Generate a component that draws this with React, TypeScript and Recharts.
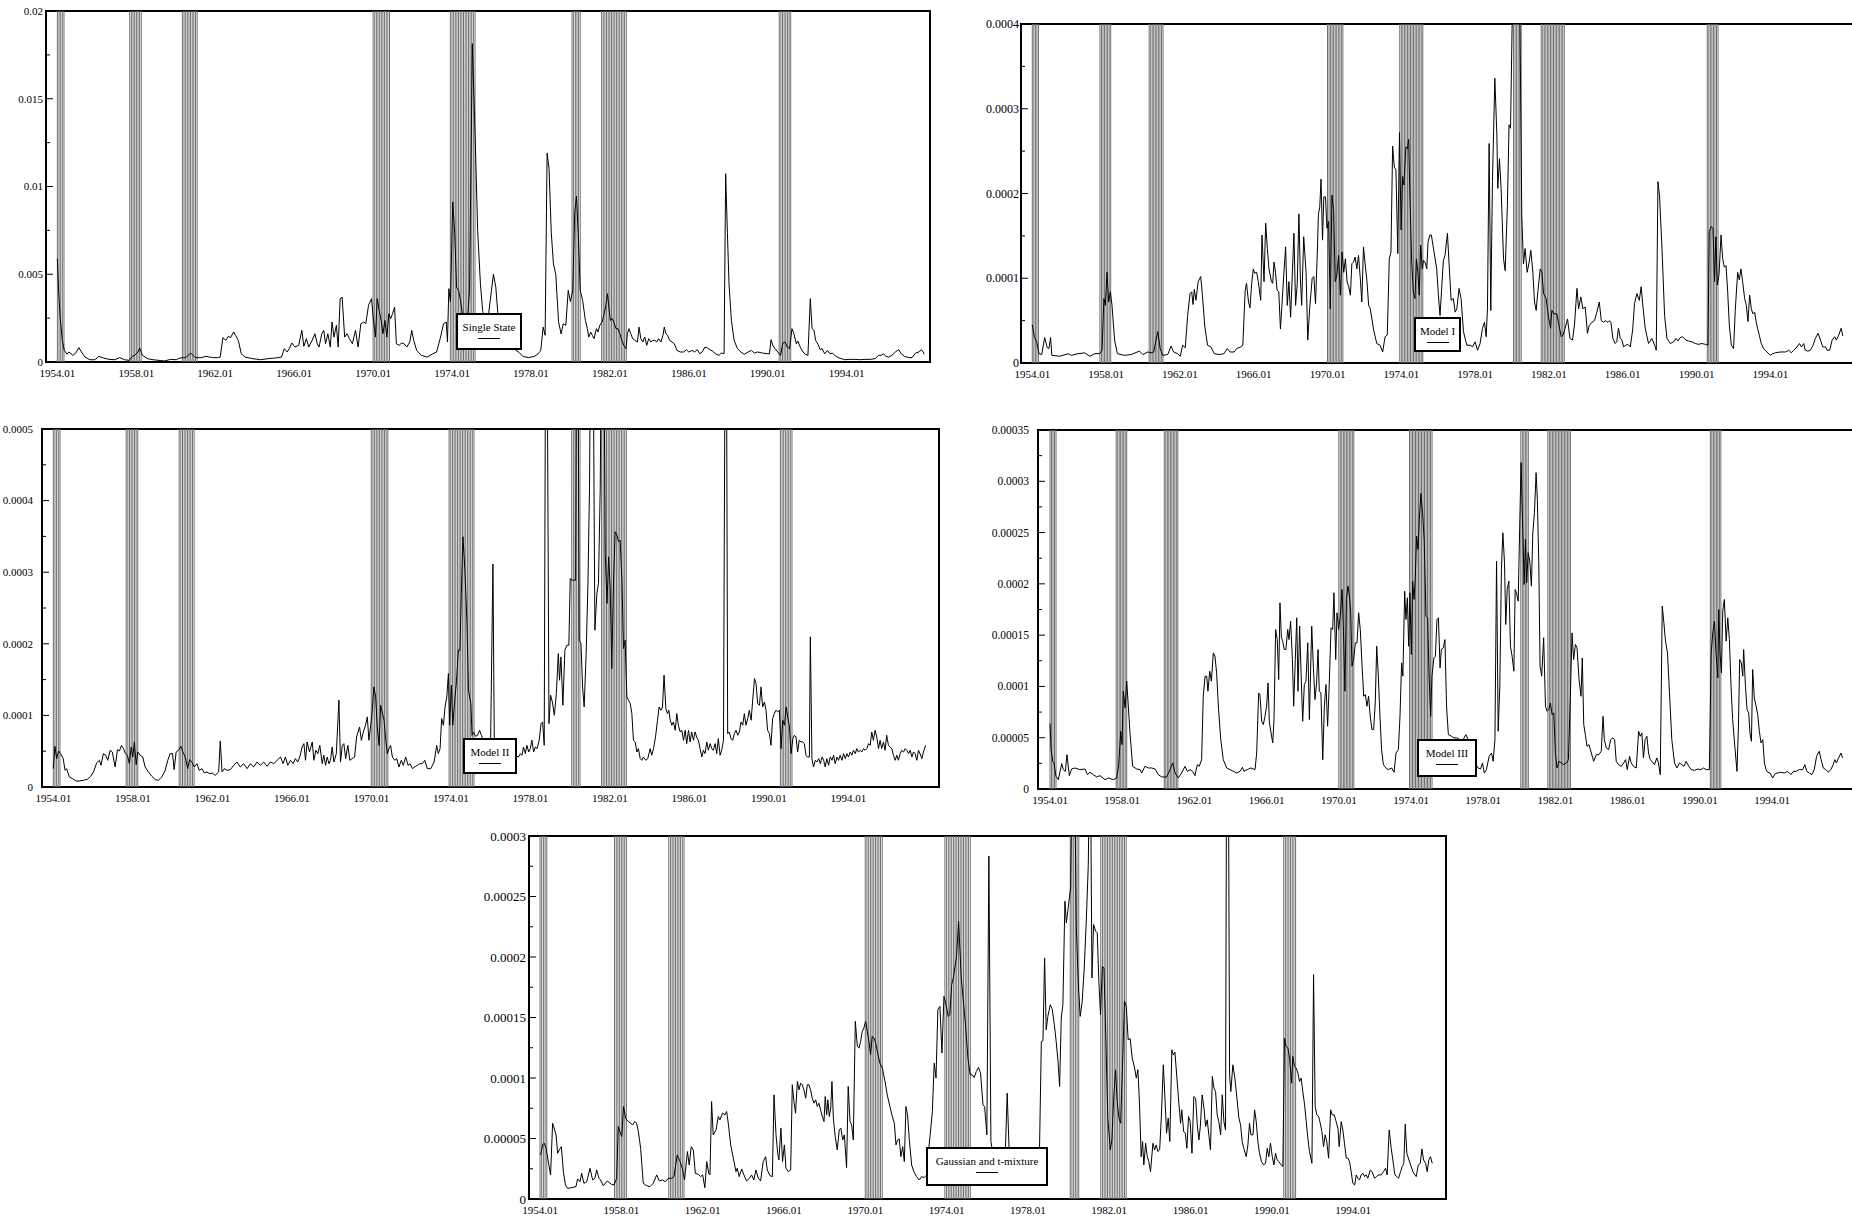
import React from 'react';
import { LineChart, Line, XAxis, YAxis, ReferenceLine, ReferenceArea } from 'recharts';

const FONT = "'Liberation Serif', 'Times New Roman', Times, serif";

type Pt = [number, number];

// x axis: decimal years, labelled as the January observation
const xTickYears = [1954, 1958, 1962, 1966, 1970, 1974, 1978, 1982, 1986, 1990, 1994];

// NBER recession months (month after peak .. trough), one grey line per month
const recessionSpans = [
  ['1954.01', '1954.05'],
  ['1957.09', '1958.04'],
  ['1960.05', '1961.02'],
  ['1970.01', '1970.11'],
  ['1973.12', '1975.03'],
  ['1980.02', '1980.07'],
  ['1981.08', '1982.11'],
  ['1990.08', '1991.03'],
];

const singleStateTicks = ['0', '0.005', '0.01', '0.015', '0.02'];
const modelITicks = ['0', '0.0001', '0.0002', '0.0003', '0.0004'];
const modelIITicks = ['0', '0.0001', '0.0002', '0.0003', '0.0004', '0.0005'];
const modelIIITicks = ['0', '0.00005', '0.0001', '0.00015', '0.0002', '0.00025', '0.0003', '0.00035'];
const mixtureTicks = ['0', '0.00005', '0.0001', '0.00015', '0.0002', '0.00025', '0.0003'];

// conditional variance, single state model (units of 1e-3)
const singleState: Pt[] = [
  [1954.00,5.89],[1954.06,4.08],[1954.14,2.56],[1954.25,1.23],[1954.35,0.66],[1954.49,0.44],[1954.58,0.57],[1954.78,0.38],[1954.93,0.51],[1955.09,0.82],
  [1955.22,0.57],[1955.40,0.28],[1955.65,0.13],[1955.90,0.13],[1956.10,0.32],[1956.33,0.23],[1956.62,0.15],[1956.91,0.13],[1957.15,0.25],[1957.40,0.13],
  [1957.65,0.09],[1957.79,0.32],[1957.92,0.38],[1958.08,0.57],[1958.17,0.80],[1958.31,0.38],[1958.56,0.19],[1958.85,0.13],[1959.15,0.09],[1959.44,0.06],
  [1959.73,0.15],[1960.02,0.13],[1960.21,0.23],[1960.50,0.25],[1960.76,0.51],[1960.99,0.25],[1961.28,0.25],[1961.53,0.32],[1961.86,0.25],[1962.12,0.25],
  [1962.25,0.28],[1962.39,1.39],[1962.54,1.23],[1962.66,1.46],[1962.78,1.39],[1962.93,1.71],[1963.03,1.52],[1963.17,1.23],[1963.32,0.47],[1963.51,0.28],
  [1963.90,0.19],[1964.29,0.13],[1964.68,0.19],[1965.07,0.23],[1965.36,0.28],[1965.50,0.76],[1965.65,0.57],[1965.75,0.76],[1965.88,1.08],[1966.04,0.85],
  [1966.23,0.95],[1966.39,1.80],[1966.49,0.89],[1966.62,1.33],[1966.74,0.85],[1966.91,1.23],[1967.05,1.61],[1967.17,1.04],[1967.26,0.85],[1967.40,1.61],
  [1967.50,1.80],[1967.59,1.04],[1967.71,1.61],[1967.83,0.85],[1967.92,2.28],[1968.02,1.42],[1968.14,2.09],[1968.23,0.85],[1968.33,3.61],[1968.43,3.70],
  [1968.56,1.42],[1968.68,1.61],[1968.80,1.33],[1968.95,1.04],[1969.11,1.80],[1969.24,0.85],[1969.38,2.18],[1969.53,2.28],[1969.63,2.18],[1969.77,3.23],
  [1969.92,3.61],[1970.02,2.37],[1970.12,1.42],[1970.21,3.61],[1970.31,2.94],[1970.41,2.37],[1970.50,1.61],[1970.60,2.37],[1970.70,1.42],[1970.80,2.75],
  [1970.89,2.47],[1970.99,2.75],[1971.09,3.13],[1971.18,1.04],[1971.32,0.95],[1971.44,1.08],[1971.57,1.04],[1971.71,0.85],[1971.86,1.14],[1971.96,1.80],
  [1972.06,1.23],[1972.21,0.66],[1972.45,0.38],[1972.74,0.28],[1973.03,0.47],[1973.22,0.57],[1973.42,1.42],[1973.57,2.18],[1973.71,2.28],[1973.77,1.14],
  [1973.84,4.18],[1973.92,3.42],[1974.04,9.12],[1974.14,7.31],[1974.23,4.27],[1974.33,4.08],[1974.43,3.51],[1974.54,2.66],[1974.66,1.61],[1974.78,2.37],
  [1974.89,4.08],[1975.03,18.14],[1975.17,13.01],[1975.30,7.50],[1975.44,4.46],[1975.55,2.94],[1975.70,2.20],[1975.85,2.70],[1976.00,4.08],[1976.10,5.00],
  [1976.22,4.27],[1976.33,2.66],[1976.50,2.00],[1976.70,1.40],[1976.95,1.00],[1977.20,0.70],[1977.40,0.55],[1977.59,0.32],[1977.88,0.25],[1978.17,0.32],
  [1978.37,0.47],[1978.50,0.66],[1978.62,1.99],[1978.72,1.52],[1978.82,11.90],[1978.92,11.00],[1979.03,7.40],[1979.14,5.60],[1979.26,5.00],[1979.40,2.30],
  [1979.53,1.60],[1979.64,2.18],[1979.77,2.09],[1979.89,4.08],[1980.00,3.45],[1980.12,4.08],[1980.22,8.50],[1980.31,9.45],[1980.40,7.31],[1980.50,4.08],
  [1980.62,3.51],[1980.76,2.37],[1980.86,1.90],[1980.93,1.42],[1981.03,1.71],[1981.11,1.52],[1981.20,1.33],[1981.32,1.90],[1981.40,1.71],[1981.49,2.09],
  [1981.61,2.28],[1981.71,2.75],[1981.80,3.23],[1981.88,3.89],[1981.95,3.13],[1982.03,2.37],[1982.12,2.47],[1982.20,2.28],[1982.31,1.90],[1982.41,1.90],
  [1982.51,1.61],[1982.61,1.23],[1982.71,0.95],[1982.82,0.76],[1982.89,1.61],[1982.97,1.90],[1983.06,1.61],[1983.16,1.33],[1983.28,1.23],[1983.40,1.14],
  [1983.48,1.99],[1983.57,1.33],[1983.67,1.14],[1983.77,1.42],[1983.87,0.95],[1983.97,1.33],[1984.08,1.14],[1984.18,1.23],[1984.28,1.23],[1984.38,1.14],
  [1984.47,1.33],[1984.59,1.14],[1984.69,1.52],[1984.76,1.99],[1984.84,1.61],[1984.93,1.52],[1985.03,1.23],[1985.15,1.14],[1985.27,1.04],[1985.40,0.66],
  [1985.57,0.57],[1985.74,0.57],[1985.88,0.70],[1986.00,0.57],[1986.17,0.66],[1986.29,0.57],[1986.43,0.70],[1986.56,0.47],[1986.68,0.57],[1986.82,0.85],
  [1986.94,0.80],[1987.07,0.70],[1987.19,0.63],[1987.36,0.47],[1987.53,0.38],[1987.65,0.51],[1987.79,0.47],[1987.87,10.73],[1987.96,7.31],[1988.04,4.46],
  [1988.16,2.37],[1988.30,1.23],[1988.47,0.76],[1988.64,0.57],[1988.81,0.44],[1989.01,0.57],[1989.18,0.66],[1989.32,0.51],[1989.49,0.57],[1989.74,0.51],
  [1989.97,0.47],[1990.09,0.47],[1990.17,1.27],[1990.26,0.95],[1990.37,0.76],[1990.51,0.57],[1990.65,0.38],[1990.77,1.08],[1990.89,1.14],[1990.99,0.85],
  [1991.11,0.76],[1991.23,1.90],[1991.33,1.61],[1991.45,1.04],[1991.53,1.20],[1991.65,0.85],[1991.79,0.57],[1991.91,0.44],[1992.04,0.38],[1992.16,3.61],
  [1992.25,1.90],[1992.35,1.80],[1992.43,1.23],[1992.55,1.01],[1992.66,0.70],[1992.76,0.76],[1992.89,0.47],[1993.03,0.66],[1993.15,0.47],[1993.27,0.51],
  [1993.40,0.38],[1993.57,0.25],[1993.74,0.19],[1993.91,0.13],[1994.17,0.15],[1994.43,0.15],[1994.68,0.13],[1994.94,0.15],[1995.19,0.15],[1995.45,0.19],
  [1995.62,0.38],[1995.75,0.38],[1995.87,0.47],[1995.99,0.32],[1996.13,0.28],[1996.30,0.38],[1996.47,0.57],[1996.64,0.70],[1996.77,0.47],[1996.94,0.32],
  [1997.15,0.25],[1997.32,0.25],[1997.49,0.51],[1997.66,0.57],[1997.80,0.70],[1997.88,0.57],[1997.93,0.44],
];

// Model I (units of 1e-4)
const modelI: Pt[] = [
  [1954.00,0.45],[1954.11,0.31],[1954.24,0.25],[1954.36,0.11],[1954.51,0.10],[1954.67,0.30],[1954.81,0.18],[1954.90,0.17],[1954.99,0.30],[1955.06,0.09],
  [1955.49,0.08],[1955.95,0.11],[1956.12,0.09],[1956.48,0.11],[1956.84,0.12],[1957.11,0.08],[1957.39,0.11],[1957.65,0.11],[1957.78,0.15],[1957.88,0.76],
  [1957.96,0.68],[1958.05,1.07],[1958.14,0.72],[1958.23,0.84],[1958.32,0.68],[1958.46,0.27],[1958.61,0.11],[1959.00,0.09],[1959.36,0.10],[1959.81,0.14],
  [1959.99,0.10],[1960.26,0.13],[1960.44,0.12],[1960.58,0.13],[1960.80,0.37],[1960.93,0.17],[1961.07,0.09],[1961.34,0.10],[1961.52,0.20],[1961.66,0.13],
  [1961.88,0.11],[1962.02,0.08],[1962.15,0.21],[1962.29,0.18],[1962.42,0.56],[1962.55,0.82],[1962.64,0.84],[1962.71,0.69],[1962.78,0.87],[1962.87,0.74],
  [1962.99,0.96],[1963.13,1.02],[1963.22,0.80],[1963.35,0.43],[1963.50,0.21],[1963.68,0.19],[1963.86,0.11],[1964.13,0.10],[1964.39,0.11],[1964.57,0.17],
  [1964.72,0.13],[1964.94,0.13],[1965.08,0.17],[1965.30,0.19],[1965.41,0.21],[1965.54,0.86],[1965.61,0.94],[1965.72,0.72],[1965.80,0.65],[1965.89,0.94],
  [1965.98,1.11],[1966.05,1.06],[1966.16,1.07],[1966.25,0.96],[1966.38,0.74],[1966.45,1.51],[1966.56,0.96],[1966.65,1.65],[1966.74,1.35],[1966.83,1.11],
  [1966.96,0.96],[1967.03,0.94],[1967.10,1.19],[1967.18,1.07],[1967.27,0.86],[1967.36,0.84],[1967.45,0.40],[1967.53,0.68],[1967.63,1.04],[1967.73,1.37],
  [1967.82,0.68],[1967.91,0.96],[1968.00,0.54],[1968.18,1.53],[1968.27,0.68],[1968.36,0.93],[1968.45,1.76],[1968.53,1.00],[1968.60,0.68],[1968.71,1.49],
  [1968.84,1.06],[1968.93,0.27],[1969.04,0.66],[1969.17,1.00],[1969.26,1.02],[1969.35,0.70],[1969.44,1.25],[1969.51,1.76],[1969.58,1.84],[1969.65,2.17],
  [1969.73,1.45],[1969.80,1.96],[1969.89,1.96],[1969.97,1.59],[1970.06,1.67],[1970.15,0.64],[1970.24,1.98],[1970.33,1.80],[1970.42,0.96],[1970.51,1.04],
  [1970.60,1.27],[1970.70,0.80],[1970.79,1.31],[1970.88,1.07],[1970.97,1.23],[1971.06,0.96],[1971.15,0.90],[1971.24,0.80],[1971.32,1.17],[1971.41,1.19],
  [1971.50,1.25],[1971.59,1.11],[1971.68,1.27],[1971.77,1.02],[1971.86,0.72],[1971.95,1.37],[1972.04,1.17],[1972.14,0.96],[1972.23,0.68],[1972.32,0.64],
  [1972.50,0.39],[1972.67,0.23],[1972.85,0.21],[1972.99,0.13],[1973.12,0.31],[1973.24,0.33],[1973.35,1.23],[1973.44,1.31],[1973.53,2.56],[1973.62,2.31],
  [1973.71,2.28],[1973.81,1.29],[1973.90,2.72],[1973.99,1.57],[1974.07,2.20],[1974.14,2.10],[1974.25,2.55],[1974.33,2.53],[1974.40,2.64],[1974.47,1.94],
  [1974.56,1.21],[1974.65,0.84],[1974.74,0.76],[1974.82,1.23],[1974.90,1.07],[1974.97,0.80],[1975.05,1.39],[1975.14,1.11],[1975.20,1.21],[1975.29,1.19],
  [1975.38,1.11],[1975.45,1.43],[1975.55,1.51],[1975.63,1.51],[1975.92,1.11],[1976.01,0.80],[1976.10,0.56],[1976.28,1.21],[1976.37,1.27],[1976.50,1.53],
  [1976.59,1.17],[1976.70,0.74],[1976.82,0.76],[1976.92,0.60],[1977.01,0.64],[1977.13,0.88],[1977.24,0.76],[1977.37,0.37],[1977.55,0.21],[1977.73,0.21],
  [1977.86,0.19],[1978.00,0.25],[1978.13,0.15],[1978.27,0.23],[1978.40,0.41],[1978.51,0.48],[1978.60,0.31],[1978.67,0.64],[1978.76,2.59],[1978.85,0.62],
  [1978.94,2.14],[1979.07,3.36],[1979.18,2.69],[1979.23,2.06],[1979.32,2.41],[1979.41,2.06],[1979.54,1.23],[1979.63,1.09],[1979.75,1.86],[1979.84,2.81],
  [1979.92,2.77],[1980.03,4.30],[1980.20,4.60],[1980.42,4.30],[1980.53,1.74],[1980.62,1.17],[1980.71,1.35],[1980.82,1.07],[1980.93,1.19],[1981.02,1.33],
  [1981.13,1.07],[1981.22,0.72],[1981.31,0.62],[1981.40,0.84],[1981.53,1.11],[1981.62,1.07],[1981.71,0.82],[1981.85,0.76],[1981.98,0.54],[1982.09,0.41],
  [1982.16,0.62],[1982.27,0.58],[1982.43,0.58],[1982.56,0.43],[1982.67,0.31],[1982.77,0.33],[1982.88,0.41],[1983.01,0.52],[1983.14,0.29],[1983.28,0.27],
  [1983.39,0.46],[1983.52,0.88],[1983.61,0.64],[1983.73,0.78],[1983.84,0.64],[1983.97,0.66],[1984.09,0.35],[1984.18,0.44],[1984.33,0.48],[1984.47,0.50],
  [1984.60,0.60],[1984.73,0.72],[1984.84,0.50],[1984.96,0.48],[1985.05,0.50],[1985.20,0.48],[1985.29,0.50],[1985.36,0.48],[1985.47,0.29],[1985.59,0.23],
  [1985.68,0.25],[1985.77,0.41],[1985.87,0.29],[1985.96,0.27],[1986.05,0.19],[1986.17,0.21],[1986.28,0.22],[1986.41,0.19],[1986.54,0.39],[1986.64,0.70],
  [1986.77,0.82],[1986.90,0.74],[1987.00,0.90],[1987.10,0.66],[1987.22,0.41],[1987.40,0.23],[1987.58,0.29],[1987.73,0.21],[1987.82,0.15],[1987.91,2.14],
  [1988.00,1.96],[1988.13,1.35],[1988.27,0.56],[1988.40,0.29],[1988.58,0.23],[1988.76,0.25],[1988.89,0.29],[1989.00,0.26],[1989.12,0.30],[1989.25,0.31],
  [1989.43,0.27],[1989.57,0.26],[1989.75,0.25],[1989.93,0.23],[1990.11,0.22],[1990.29,0.23],[1990.48,0.22],[1990.62,0.21],[1990.69,1.55],[1990.80,1.61],
  [1990.89,1.59],[1990.98,0.96],[1991.05,1.49],[1991.13,0.92],[1991.22,1.04],[1991.33,1.51],[1991.42,1.23],[1991.51,1.13],[1991.60,1.15],[1991.69,0.84],
  [1991.78,0.44],[1991.89,0.21],[1992.01,0.17],[1992.10,0.62],[1992.23,1.07],[1992.32,0.98],[1992.41,1.11],[1992.50,0.96],[1992.61,0.76],[1992.70,0.68],
  [1992.79,0.49],[1992.88,0.80],[1992.97,0.64],[1993.06,0.58],[1993.15,0.60],[1993.24,0.48],[1993.31,0.41],[1993.40,0.33],[1993.51,0.23],[1993.64,0.17],
  [1993.82,0.13],[1994.00,0.09],[1994.13,0.11],[1994.27,0.12],[1994.54,0.13],[1994.82,0.13],[1995.00,0.15],[1995.14,0.12],[1995.27,0.15],[1995.45,0.19],
  [1995.58,0.23],[1995.69,0.19],[1995.81,0.23],[1995.90,0.15],[1996.04,0.14],[1996.17,0.15],[1996.32,0.21],[1996.44,0.29],[1996.59,0.35],[1996.72,0.27],
  [1996.84,0.19],[1996.99,0.19],[1997.08,0.15],[1997.22,0.15],[1997.35,0.27],[1997.49,0.31],[1997.58,0.27],[1997.71,0.33],[1997.84,0.41],[1997.93,0.32],
];

// Model II (units of 1e-5)
const modelII: Pt[] = [
  [1954.00,2.56],[1954.08,5.69],[1954.17,3.96],[1954.27,5.03],[1954.37,4.66],[1954.50,3.96],[1954.59,2.33],[1954.67,2.56],[1954.81,1.40],[1954.97,1.16],
  [1955.14,0.84],[1955.31,0.84],[1955.51,0.93],[1955.71,1.07],[1955.88,1.49],[1956.02,2.10],[1956.18,3.36],[1956.32,3.73],[1956.40,3.03],[1956.52,4.66],
  [1956.64,4.43],[1956.74,3.73],[1956.86,5.13],[1956.97,4.89],[1957.11,2.80],[1957.23,5.22],[1957.33,5.03],[1957.43,5.82],[1957.53,5.36],[1957.63,4.66],
  [1957.73,4.43],[1957.83,3.26],[1957.92,5.59],[1958.00,4.19],[1958.08,6.29],[1958.17,3.12],[1958.25,4.89],[1958.37,4.43],[1958.50,4.19],[1958.62,2.80],
  [1958.79,2.10],[1958.96,1.49],[1959.13,1.03],[1959.29,0.93],[1959.46,1.40],[1959.63,2.33],[1959.76,3.73],[1959.88,4.66],[1960.00,4.66],[1960.08,2.42],
  [1960.18,4.89],[1960.30,5.13],[1960.42,5.69],[1960.52,4.89],[1960.64,4.19],[1960.76,2.56],[1960.86,3.82],[1960.97,3.49],[1961.09,2.80],[1961.23,3.26],
  [1961.34,2.33],[1961.48,2.56],[1961.60,1.96],[1961.73,2.10],[1961.87,1.86],[1962.00,1.96],[1962.15,1.63],[1962.32,2.10],[1962.40,6.43],[1962.49,2.10],
  [1962.61,2.56],[1962.74,2.33],[1962.91,2.42],[1963.08,3.03],[1963.24,3.49],[1963.41,2.80],[1963.58,3.26],[1963.75,2.56],[1963.92,3.26],[1964.08,2.80],
  [1964.25,3.49],[1964.42,3.03],[1964.59,3.49],[1964.76,2.89],[1964.92,3.49],[1965.09,3.26],[1965.26,3.73],[1965.43,4.19],[1965.56,3.26],[1965.68,4.19],
  [1965.80,3.03],[1965.93,3.73],[1966.07,3.26],[1966.18,3.96],[1966.30,3.49],[1966.40,4.19],[1966.52,5.59],[1966.61,6.06],[1966.69,3.73],[1966.77,6.29],
  [1966.89,4.89],[1967.03,6.29],[1967.11,3.73],[1967.21,5.13],[1967.31,4.66],[1967.41,5.82],[1967.53,3.26],[1967.61,4.43],[1967.70,3.03],[1967.78,4.19],
  [1967.87,3.26],[1967.95,3.73],[1968.03,5.59],[1968.12,3.49],[1968.24,4.66],[1968.37,12.12],[1968.45,3.49],[1968.54,5.82],[1968.62,6.06],[1968.71,3.96],
  [1968.82,5.82],[1968.92,3.73],[1969.04,3.96],[1969.16,4.19],[1969.26,6.99],[1969.41,8.39],[1969.50,6.52],[1969.60,7.69],[1969.71,8.62],[1969.80,9.79],
  [1969.88,6.52],[1969.97,8.62],[1970.05,10.72],[1970.13,13.98],[1970.22,12.58],[1970.30,8.39],[1970.39,5.82],[1970.47,11.42],[1970.55,10.48],[1970.64,9.32],
  [1970.72,6.76],[1970.81,4.66],[1970.89,5.36],[1970.97,5.82],[1971.06,4.19],[1971.18,3.73],[1971.28,3.96],[1971.39,2.80],[1971.51,3.73],[1971.61,3.03],
  [1971.73,4.19],[1971.85,3.03],[1971.95,3.26],[1972.07,2.56],[1972.18,2.80],[1972.32,3.03],[1972.45,3.26],[1972.57,3.26],[1972.69,3.73],[1972.82,2.56],
  [1972.99,2.56],[1973.16,3.49],[1973.29,5.82],[1973.37,4.66],[1973.46,5.36],[1973.54,9.55],[1973.63,8.62],[1973.71,11.18],[1973.80,12.58],[1973.88,15.84],
  [1973.94,8.62],[1974.03,14.21],[1974.10,8.62],[1974.20,12.12],[1974.29,14.91],[1974.38,19.11],[1974.46,19.11],[1974.53,27.03],[1974.61,34.95],[1974.71,30.29],
  [1974.81,23.30],[1974.89,13.51],[1975.01,11.65],[1975.07,7.22],[1975.15,7.69],[1975.24,7.08],[1975.35,7.22],[1975.45,7.92],[1975.54,7.22],[1975.70,6.00],
  [1975.85,5.50],[1976.00,5.80],[1976.12,31.13],[1976.19,6.00],[1976.40,5.50],[1976.70,5.00],[1977.00,4.80],[1977.20,4.50],[1977.41,4.19],[1977.50,4.66],
  [1977.58,4.43],[1977.66,5.59],[1977.75,4.66],[1977.83,5.82],[1977.92,4.89],[1978.00,5.36],[1978.08,6.52],[1978.17,4.89],[1978.25,5.59],[1978.34,5.36],
  [1978.45,6.52],[1978.54,8.85],[1978.62,9.09],[1978.70,5.82],[1978.80,90.00],[1978.94,8.85],[1979.02,12.81],[1979.11,11.88],[1979.21,10.02],[1979.31,13.05],
  [1979.41,18.64],[1979.47,14.91],[1979.54,18.17],[1979.64,11.42],[1979.74,19.11],[1979.84,19.80],[1979.94,19.80],[1980.01,29.12],[1980.09,28.89],[1980.18,28.89],
  [1980.28,28.89],[1980.36,90.00],[1980.46,20.50],[1980.55,20.04],[1980.63,13.98],[1980.71,11.18],[1980.81,18.64],[1980.90,28.42],[1980.98,41.94],[1981.10,90.00],
  [1981.25,21.90],[1981.35,27.03],[1981.43,28.42],[1981.52,41.94],[1981.64,90.00],[1981.77,32.62],[1981.86,25.63],[1981.94,32.15],[1982.02,27.96],[1982.10,16.54],
  [1982.19,28.89],[1982.27,35.65],[1982.36,35.18],[1982.44,34.25],[1982.52,34.48],[1982.61,28.89],[1982.69,19.34],[1982.77,20.50],[1982.86,12.58],[1982.94,12.12],
  [1983.03,11.65],[1983.11,10.25],[1983.19,6.52],[1983.28,6.29],[1983.36,4.89],[1983.44,5.36],[1983.53,3.96],[1983.61,3.73],[1983.69,4.19],[1983.81,3.73],
  [1983.91,3.96],[1984.03,5.36],[1984.11,4.43],[1984.20,5.36],[1984.30,6.99],[1984.40,9.32],[1984.48,11.18],[1984.57,10.72],[1984.65,11.18],[1984.73,15.61],
  [1984.82,10.95],[1984.90,10.25],[1984.97,10.72],[1985.04,9.32],[1985.12,8.62],[1985.20,9.09],[1985.29,7.92],[1985.37,10.25],[1985.45,8.62],[1985.54,7.69],
  [1985.62,7.92],[1985.71,6.52],[1985.79,7.92],[1985.87,6.06],[1985.96,7.92],[1986.04,6.29],[1986.12,7.69],[1986.21,6.52],[1986.29,7.69],[1986.37,6.99],
  [1986.46,6.52],[1986.54,5.36],[1986.63,4.19],[1986.71,5.13],[1986.79,4.66],[1986.88,6.29],[1986.96,5.13],[1987.05,6.06],[1987.13,5.36],[1987.21,5.13],
  [1987.30,6.06],[1987.38,4.66],[1987.46,6.76],[1987.55,4.43],[1987.63,5.13],[1987.72,6.52],[1987.84,90.00],[1987.93,7.46],[1988.01,7.69],[1988.10,6.76],
  [1988.18,6.52],[1988.27,7.46],[1988.35,7.92],[1988.44,7.22],[1988.52,7.69],[1988.60,9.09],[1988.69,8.62],[1988.77,10.25],[1988.85,8.62],[1988.94,9.55],
  [1989.02,10.72],[1989.11,9.32],[1989.19,12.12],[1989.28,15.14],[1989.36,14.45],[1989.44,11.65],[1989.53,11.42],[1989.61,13.98],[1989.69,11.18],[1989.78,11.88],
  [1989.86,10.72],[1989.94,7.92],[1990.03,7.46],[1990.11,5.82],[1990.19,9.55],[1990.28,10.25],[1990.36,10.72],[1990.45,10.48],[1990.53,10.72],[1990.62,5.36],
  [1990.70,9.32],[1990.79,8.62],[1990.87,11.18],[1990.95,9.79],[1991.04,8.39],[1991.12,4.66],[1991.21,6.76],[1991.29,7.22],[1991.37,6.99],[1991.45,4.89],
  [1991.53,6.52],[1991.62,6.29],[1991.70,6.29],[1991.79,6.06],[1991.87,4.43],[1991.95,4.19],[1992.04,4.19],[1992.09,20.97],[1992.17,3.96],[1992.25,2.80],
  [1992.34,3.73],[1992.42,3.49],[1992.51,3.96],[1992.59,3.26],[1992.68,4.19],[1992.76,3.73],[1992.84,2.80],[1992.92,3.96],[1993.01,3.03],[1993.09,4.19],
  [1993.18,3.73],[1993.26,4.43],[1993.34,3.26],[1993.43,4.19],[1993.51,3.73],[1993.59,4.43],[1993.68,3.73],[1993.76,4.66],[1993.85,3.96],[1993.93,4.66],
  [1994.01,4.19],[1994.10,4.89],[1994.18,4.43],[1994.26,5.13],[1994.35,4.66],[1994.43,5.36],[1994.51,4.89],[1994.60,5.13],[1994.68,4.89],[1994.76,5.36],
  [1994.85,5.13],[1994.93,5.36],[1995.02,6.06],[1995.10,5.82],[1995.18,7.69],[1995.26,6.52],[1995.35,7.92],[1995.43,6.99],[1995.52,5.36],[1995.60,6.52],
  [1995.68,5.36],[1995.77,6.29],[1995.85,5.13],[1995.93,7.22],[1996.02,5.82],[1996.10,5.59],[1996.19,5.36],[1996.27,4.43],[1996.36,3.73],[1996.44,4.43],
  [1996.52,3.73],[1996.61,4.66],[1996.69,5.13],[1996.78,4.89],[1996.86,5.36],[1996.94,5.13],[1997.03,4.66],[1997.11,5.13],[1997.20,4.19],[1997.28,4.89],
  [1997.36,4.66],[1997.45,3.73],[1997.53,5.13],[1997.61,4.66],[1997.70,3.96],[1997.78,4.89],[1997.89,5.82],
];

// Model III (units of 1e-5)
const modelIII: Pt[] = [
  [1954.00,6.38],[1954.06,3.84],[1954.15,2.70],[1954.22,2.54],[1954.33,1.24],[1954.46,0.91],[1954.65,2.47],[1954.74,1.89],[1954.85,1.72],[1954.94,3.35],
  [1955.07,1.30],[1955.20,1.95],[1955.39,2.05],[1955.66,1.89],[1955.94,1.95],[1956.07,1.40],[1956.22,1.63],[1956.40,1.40],[1956.59,1.17],[1956.77,1.30],
  [1957.05,0.91],[1957.23,1.07],[1957.51,0.91],[1957.69,1.07],[1957.80,2.21],[1957.92,5.63],[1957.99,4.33],[1958.06,9.53],[1958.16,7.90],[1958.25,10.51],
  [1958.34,8.07],[1958.43,5.47],[1958.58,2.21],[1958.80,1.95],[1958.99,1.89],[1959.08,1.56],[1959.26,2.21],[1959.45,2.05],[1959.63,2.05],[1959.82,1.95],
  [1960.00,1.40],[1960.19,1.17],[1960.46,1.17],[1960.65,1.89],[1960.80,2.54],[1960.93,1.56],[1961.11,1.07],[1961.29,1.56],[1961.48,2.21],[1961.61,1.72],
  [1961.76,1.89],[1961.90,1.72],[1962.03,1.30],[1962.16,2.37],[1962.27,2.21],[1962.40,2.86],[1962.49,9.04],[1962.59,11.00],[1962.68,11.00],[1962.75,9.53],
  [1962.85,11.48],[1962.94,10.51],[1963.05,13.27],[1963.14,12.95],[1963.23,11.32],[1963.34,7.74],[1963.46,4.81],[1963.60,2.86],[1963.79,2.05],[1963.97,1.89],
  [1964.16,1.72],[1964.34,1.56],[1964.53,1.72],[1964.66,2.11],[1964.75,1.72],[1964.99,1.95],[1965.12,2.05],[1965.36,1.89],[1965.45,3.51],[1965.56,9.37],
  [1965.63,9.21],[1965.73,6.60],[1965.82,6.28],[1965.91,7.09],[1966.00,8.07],[1966.08,10.34],[1966.15,6.60],[1966.23,5.63],[1966.34,4.49],[1966.41,6.77],
  [1966.50,15.55],[1966.59,14.57],[1966.67,10.67],[1966.74,18.15],[1966.82,14.74],[1966.89,14.41],[1966.98,13.60],[1967.07,13.60],[1967.17,15.55],[1967.24,14.57],
  [1967.33,16.36],[1967.43,12.62],[1967.50,8.07],[1967.59,12.62],[1967.67,16.69],[1967.74,9.53],[1967.83,15.88],[1967.91,11.32],[1968.00,6.60],[1968.09,10.18],
  [1968.18,10.51],[1968.28,14.25],[1968.37,6.77],[1968.50,15.88],[1968.59,11.97],[1968.68,8.72],[1968.77,10.34],[1968.85,13.60],[1968.92,9.53],[1969.01,9.37],
  [1969.11,2.86],[1969.20,8.07],[1969.29,10.18],[1969.38,6.12],[1969.46,9.69],[1969.57,15.71],[1969.66,15.55],[1969.73,19.13],[1969.83,12.62],[1969.90,17.18],
  [1969.99,15.55],[1970.08,16.85],[1970.18,19.45],[1970.25,15.88],[1970.34,9.53],[1970.42,18.48],[1970.51,19.78],[1970.59,18.80],[1970.66,17.18],[1970.73,11.97],
  [1970.82,12.62],[1970.92,14.25],[1971.01,14.25],[1971.10,17.18],[1971.19,15.55],[1971.29,11.97],[1971.38,9.04],[1971.47,9.21],[1971.56,8.07],[1971.65,9.04],
  [1971.75,6.93],[1971.84,5.79],[1971.93,5.79],[1972.02,8.39],[1972.10,13.92],[1972.19,11.00],[1972.28,7.09],[1972.37,3.84],[1972.47,2.37],[1972.61,2.05],
  [1972.74,1.89],[1972.93,2.05],[1973.06,1.63],[1973.17,3.51],[1973.30,3.84],[1973.39,7.09],[1973.48,12.30],[1973.55,11.00],[1973.65,19.29],[1973.72,16.53],
  [1973.80,18.64],[1973.87,13.92],[1973.94,19.13],[1974.02,13.11],[1974.09,20.27],[1974.17,18.48],[1974.24,20.75],[1974.31,24.66],[1974.39,23.36],[1974.46,26.28],
  [1974.55,28.82],[1974.64,26.94],[1974.73,24.33],[1974.83,16.85],[1974.92,16.69],[1975.01,10.67],[1975.09,7.09],[1975.16,11.00],[1975.27,12.78],[1975.35,12.95],
  [1975.44,16.53],[1975.52,16.69],[1975.61,11.81],[1975.68,13.60],[1975.79,13.76],[1975.88,14.57],[1975.97,8.07],[1976.07,5.30],[1976.25,5.14],[1976.38,4.98],
  [1976.53,4.98],[1976.71,4.81],[1976.89,4.81],[1977.04,5.30],[1977.17,4.81],[1977.35,4.33],[1977.54,2.54],[1977.72,2.05],[1977.85,1.95],[1977.96,2.54],
  [1978.06,1.56],[1978.18,1.89],[1978.33,3.19],[1978.46,3.51],[1978.55,2.70],[1978.65,4.81],[1978.74,22.22],[1978.83,5.63],[1978.92,10.02],[1979.01,21.41],
  [1979.09,24.98],[1979.18,22.06],[1979.25,16.04],[1979.33,19.45],[1979.42,20.27],[1979.51,13.92],[1979.60,12.95],[1979.70,11.48],[1979.77,19.45],[1979.84,19.13],
  [1979.94,18.31],[1980.03,26.28],[1980.10,31.82],[1980.19,25.31],[1980.27,19.94],[1980.34,24.33],[1980.41,20.10],[1980.49,23.03],[1980.58,22.22],[1980.67,19.78],
  [1980.75,24.98],[1980.84,26.94],[1980.93,30.84],[1981.00,28.24],[1981.08,22.06],[1981.15,11.97],[1981.24,11.00],[1981.35,14.74],[1981.45,8.07],[1981.54,7.58],
  [1981.63,7.74],[1981.72,8.39],[1981.82,7.25],[1981.91,7.42],[1982.00,3.51],[1982.09,2.05],[1982.20,2.70],[1982.33,2.54],[1982.46,2.37],[1982.61,2.54],
  [1982.72,2.86],[1982.83,9.04],[1982.92,15.22],[1983.01,12.62],[1983.11,14.09],[1983.20,13.76],[1983.31,10.67],[1983.42,9.04],[1983.49,12.78],[1983.57,6.28],
  [1983.66,5.30],[1983.75,4.16],[1983.86,4.33],[1983.99,3.51],[1984.12,2.70],[1984.27,3.35],[1984.41,3.35],[1984.54,3.68],[1984.64,7.09],[1984.71,4.81],
  [1984.82,4.00],[1984.95,3.84],[1985.06,4.81],[1985.19,4.98],[1985.28,4.81],[1985.37,2.70],[1985.50,2.37],[1985.65,2.21],[1985.78,2.54],[1985.89,2.86],
  [1985.98,1.89],[1986.11,3.19],[1986.20,2.54],[1986.33,2.21],[1986.48,2.05],[1986.61,5.63],[1986.70,5.14],[1986.79,5.47],[1986.88,3.03],[1986.97,4.81],
  [1987.07,5.14],[1987.16,3.51],[1987.25,2.86],[1987.35,2.70],[1987.49,2.37],[1987.62,3.03],[1987.71,2.54],[1987.81,1.40],[1987.92,17.83],[1988.01,16.20],
  [1988.10,14.41],[1988.21,13.27],[1988.32,9.37],[1988.45,4.81],[1988.60,2.54],[1988.73,2.05],[1988.88,2.54],[1989.00,2.37],[1989.12,2.21],[1989.24,2.70],
  [1989.39,2.21],[1989.52,1.89],[1989.71,1.82],[1989.89,1.95],[1990.07,1.89],[1990.20,2.05],[1990.35,1.89],[1990.53,1.89],[1990.63,13.27],[1990.72,15.22],
  [1990.81,16.36],[1990.90,13.27],[1991.00,10.83],[1991.05,17.50],[1991.12,13.27],[1991.20,11.32],[1991.27,17.34],[1991.36,18.48],[1991.46,14.41],[1991.55,16.69],
  [1991.64,14.57],[1991.73,10.02],[1991.82,6.77],[1991.94,4.16],[1992.06,1.72],[1992.14,6.12],[1992.21,12.62],[1992.30,12.30],[1992.38,11.00],[1992.43,13.60],
  [1992.53,10.02],[1992.62,7.74],[1992.71,7.42],[1992.78,5.47],[1992.86,4.65],[1992.93,11.65],[1993.02,8.88],[1993.12,8.07],[1993.21,7.25],[1993.30,5.63],
  [1993.39,4.49],[1993.49,4.81],[1993.58,2.54],[1993.67,1.89],[1993.76,1.63],[1993.89,1.56],[1994.04,1.07],[1994.18,1.50],[1994.31,1.56],[1994.50,1.63],
  [1994.68,1.56],[1994.87,1.72],[1995.05,1.40],[1995.18,1.72],[1995.33,1.72],[1995.51,1.89],[1995.70,1.89],[1995.82,2.37],[1995.93,1.72],[1996.06,1.56],
  [1996.21,1.40],[1996.34,1.89],[1996.47,3.19],[1996.62,3.68],[1996.72,2.86],[1996.84,2.05],[1996.98,1.89],[1997.12,1.63],[1997.26,1.89],[1997.39,2.37],
  [1997.48,2.86],[1997.57,2.54],[1997.69,3.03],[1997.82,3.51],[1997.91,3.03],
];

// Gaussian and t-mixture (units of 1e-5)
const mixture: Pt[] = [
  [1954.03,3.64],[1954.13,4.47],[1954.21,4.61],[1954.30,4.19],[1954.38,3.37],[1954.52,1.99],[1954.62,6.26],[1954.72,5.71],[1954.79,5.30],[1954.87,3.78],
  [1954.95,4.06],[1955.05,4.33],[1955.15,2.26],[1955.25,1.16],[1955.36,0.88],[1955.56,0.94],[1955.77,1.02],[1955.85,1.66],[1955.97,1.43],[1956.05,2.12],
  [1956.16,1.30],[1956.30,1.43],[1956.46,2.54],[1956.59,1.57],[1956.70,1.71],[1956.79,2.40],[1956.90,1.71],[1956.98,1.57],[1957.11,1.10],[1957.31,1.49],
  [1957.52,1.21],[1957.64,1.16],[1957.77,1.71],[1957.85,5.99],[1957.93,5.57],[1958.02,5.16],[1958.11,7.64],[1958.21,6.68],[1958.34,6.40],[1958.46,6.26],
  [1958.56,6.13],[1958.67,6.40],[1958.75,6.26],[1958.84,5.57],[1958.95,4.19],[1959.08,1.30],[1959.25,1.10],[1959.41,1.02],[1959.57,1.30],[1959.74,1.99],
  [1959.87,1.49],[1960.03,1.57],[1960.16,1.43],[1960.31,1.71],[1960.48,1.71],[1960.59,1.85],[1960.75,3.64],[1960.89,3.09],[1961.00,2.54],[1961.11,1.57],
  [1961.25,3.92],[1961.34,2.81],[1961.44,4.33],[1961.54,4.06],[1961.64,2.12],[1961.79,2.04],[1961.90,1.85],[1962.00,1.99],[1962.11,0.94],[1962.20,3.09],
  [1962.30,2.12],[1962.36,1.99],[1962.44,8.06],[1962.52,5.30],[1962.66,5.71],[1962.77,6.82],[1962.85,6.54],[1962.98,7.09],[1963.10,6.95],[1963.18,7.23],
  [1963.26,6.26],[1963.38,4.47],[1963.51,3.37],[1963.64,2.26],[1963.70,2.54],[1963.80,1.85],[1963.92,2.48],[1964.03,1.99],[1964.16,1.49],[1964.30,1.71],
  [1964.41,1.99],[1964.52,1.57],[1964.62,2.40],[1964.74,1.71],[1964.85,1.49],[1964.98,3.09],[1965.10,3.50],[1965.18,2.40],[1965.31,1.93],[1965.43,1.85],
  [1965.51,8.61],[1965.61,5.30],[1965.69,3.78],[1965.75,3.23],[1965.85,5.85],[1965.93,3.09],[1966.02,4.47],[1966.10,2.54],[1966.21,2.26],[1966.33,2.40],
  [1966.41,9.44],[1966.49,8.06],[1966.57,7.09],[1966.66,9.71],[1966.74,9.02],[1966.82,9.58],[1966.90,9.44],[1966.98,9.02],[1967.07,8.33],[1967.15,9.44],
  [1967.23,9.44],[1967.31,9.02],[1967.39,8.33],[1967.48,7.92],[1967.56,8.20],[1967.64,7.64],[1967.72,7.92],[1967.80,7.37],[1967.89,6.82],[1967.97,6.40],
  [1968.03,8.47],[1968.10,6.95],[1968.16,8.20],[1968.23,6.82],[1968.30,7.51],[1968.36,9.71],[1968.43,6.68],[1968.52,5.16],[1968.62,4.06],[1968.72,5.71],
  [1968.80,5.85],[1968.89,4.88],[1968.97,5.30],[1969.08,2.59],[1969.16,9.30],[1969.25,6.40],[1969.33,6.13],[1969.41,4.88],[1969.51,14.68],[1969.61,12.61],
  [1969.69,12.47],[1969.77,13.02],[1969.85,13.85],[1969.93,14.13],[1970.02,14.68],[1970.10,13.85],[1970.18,13.02],[1970.26,11.92],[1970.34,13.44],[1970.43,13.30],
  [1970.51,12.89],[1970.61,12.06],[1970.72,11.23],[1970.84,10.82],[1970.97,9.71],[1971.08,8.61],[1971.21,7.64],[1971.31,6.95],[1971.43,6.26],[1971.51,4.47],
  [1971.59,4.88],[1971.67,4.97],[1971.75,3.50],[1971.84,4.33],[1971.92,3.09],[1972.00,7.64],[1972.08,6.95],[1972.16,5.02],[1972.28,2.81],[1972.39,2.26],
  [1972.52,1.85],[1972.66,1.57],[1972.77,1.85],[1972.90,1.77],[1973.02,1.99],[1973.11,3.92],[1973.20,5.44],[1973.30,7.23],[1973.39,11.23],[1973.48,9.99],
  [1973.57,15.65],[1973.67,15.92],[1973.77,12.06],[1973.87,16.75],[1973.97,16.06],[1974.08,15.09],[1974.16,15.23],[1974.25,17.72],[1974.33,18.27],[1974.49,20.06],
  [1974.59,22.96],[1974.72,18.27],[1974.84,16.06],[1974.93,14.40],[1975.05,11.64],[1975.16,10.26],[1975.26,10.26],[1975.36,10.04],[1975.46,10.54],[1975.57,10.87],
  [1975.67,10.40],[1975.79,7.78],[1975.87,7.64],[1975.98,5.30],[1976.08,28.34],[1976.18,4.75],[1976.30,3.50],[1976.50,3.00],[1976.70,2.80],[1976.88,3.40],
  [1976.98,8.75],[1977.08,3.80],[1977.30,2.80],[1977.60,2.50],[1977.90,2.30],[1978.20,2.40],[1978.45,2.80],[1978.57,4.10],[1978.66,13.02],[1978.74,13.08],
  [1978.82,19.92],[1978.90,13.99],[1978.98,15.09],[1979.10,16.06],[1979.20,15.65],[1979.30,14.40],[1979.39,13.02],[1979.48,11.37],[1979.56,9.30],[1979.64,14.96],
  [1979.72,16.06],[1979.82,24.61],[1979.89,22.82],[1979.98,24.06],[1980.10,25.72],[1980.24,45.00],[1980.38,22.41],[1980.49,17.44],[1980.57,15.09],[1980.67,16.34],
  [1980.77,19.09],[1980.87,22.96],[1980.97,27.65],[1981.06,40.00],[1981.15,18.27],[1981.23,22.68],[1981.33,22.13],[1981.41,21.99],[1981.49,17.99],[1981.57,15.23],
  [1981.66,19.23],[1981.74,19.09],[1981.82,14.13],[1981.93,6.68],[1982.05,4.06],[1982.13,4.88],[1982.21,8.06],[1982.31,10.68],[1982.39,8.06],[1982.48,6.68],
  [1982.56,6.26],[1982.67,11.92],[1982.75,16.34],[1982.84,15.92],[1982.93,13.16],[1983.03,13.25],[1983.13,11.64],[1983.25,10.82],[1983.33,9.99],[1983.41,10.68],
  [1983.49,7.78],[1983.57,3.50],[1983.64,4.75],[1983.70,2.81],[1983.79,4.61],[1983.87,3.50],[1983.95,3.09],[1984.03,2.26],[1984.15,4.61],[1984.23,4.06],
  [1984.31,4.47],[1984.39,3.92],[1984.48,4.06],[1984.56,6.68],[1984.66,11.09],[1984.74,8.33],[1984.82,5.44],[1984.90,6.68],[1984.98,4.75],[1985.08,12.33],
  [1985.15,11.92],[1985.23,12.14],[1985.33,9.99],[1985.43,7.78],[1985.51,6.26],[1985.57,7.37],[1985.66,5.57],[1985.74,5.44],[1985.82,4.19],[1985.90,6.82],
  [1985.98,6.40],[1986.07,3.78],[1986.16,8.47],[1986.25,8.33],[1986.33,6.13],[1986.41,4.88],[1986.48,5.99],[1986.57,8.61],[1986.66,7.51],[1986.74,5.99],
  [1986.82,6.54],[1986.90,5.30],[1986.98,4.06],[1987.07,10.13],[1987.15,9.16],[1987.23,8.88],[1987.31,6.95],[1987.39,6.40],[1987.48,5.30],[1987.56,8.61],
  [1987.64,6.40],[1987.72,5.71],[1987.81,60.00],[1987.92,10.26],[1987.98,8.88],[1988.08,11.09],[1988.18,9.99],[1988.28,8.33],[1988.38,6.68],[1988.46,6.13],
  [1988.54,4.75],[1988.62,4.19],[1988.74,3.50],[1988.82,4.47],[1988.90,6.26],[1988.97,5.30],[1989.07,5.30],[1989.15,7.37],[1989.23,6.40],[1989.31,4.75],
  [1989.39,3.78],[1989.49,3.09],[1989.59,2.81],[1989.69,2.95],[1989.77,4.19],[1989.85,3.50],[1989.93,4.61],[1990.02,3.50],[1990.10,2.81],[1990.18,3.78],
  [1990.26,3.23],[1990.34,3.09],[1990.46,2.81],[1990.54,2.68],[1990.62,13.30],[1990.70,12.61],[1990.79,12.47],[1990.87,11.64],[1990.97,9.58],[1991.03,11.78],
  [1991.11,10.96],[1991.20,10.82],[1991.28,10.40],[1991.36,9.71],[1991.44,9.99],[1991.52,8.88],[1991.61,7.78],[1991.69,6.40],[1991.77,5.02],[1991.85,3.92],
  [1991.97,2.95],[1992.05,18.54],[1992.13,7.64],[1992.21,6.95],[1992.30,6.82],[1992.38,6.26],[1992.46,5.57],[1992.54,4.33],[1992.62,5.30],[1992.70,4.75],
  [1992.79,3.37],[1992.89,7.37],[1992.97,6.95],[1993.07,6.95],[1993.16,6.40],[1993.25,5.85],[1993.31,4.33],[1993.41,6.40],[1993.49,5.71],[1993.57,4.61],
  [1993.66,3.37],[1993.74,3.37],[1993.82,3.09],[1993.90,2.26],[1993.98,1.30],[1994.07,1.16],[1994.15,1.99],[1994.23,1.71],[1994.31,1.57],[1994.39,1.99],
  [1994.48,2.12],[1994.56,1.85],[1994.64,1.99],[1994.72,1.71],[1994.84,2.40],[1994.93,2.26],[1995.05,1.71],[1995.13,1.85],[1995.26,1.99],[1995.38,1.99],
  [1995.49,2.26],[1995.59,2.54],[1995.67,1.99],[1995.77,5.71],[1995.87,4.19],[1995.95,3.23],[1996.05,1.99],[1996.15,1.85],[1996.23,1.71],[1996.33,2.26],
  [1996.41,2.68],[1996.49,2.95],[1996.56,6.18],[1996.64,3.78],[1996.74,3.23],[1996.85,2.68],[1996.97,2.12],[1997.10,1.85],[1997.20,2.81],[1997.30,2.95],
  [1997.38,4.14],[1997.46,3.23],[1997.56,2.95],[1997.64,2.26],[1997.72,3.23],[1997.80,3.50],[1997.89,2.95],
];

const toYear = (s: string) => {
  const [y, m] = s.split('.').map(Number);
  return y + (m - 1) / 12;
};

const recessionMonths: number[] = [];
recessionSpans.forEach(([a, b]) => {
  const end = toYear(b);
  for (let t = toYear(a); t <= end + 1e-6; t += 1 / 12) recessionMonths.push(t);
});

interface PanelSpec {
  name: string;
  series: Pt[];
  unit: number;
  yLabels: string[];
  box: [number, number, number, number];
  x1954: number;
  ppy: number;
  yFont: number;
  yGap: number;
  legend: [number, number, number, number];
}

const panels: PanelSpec[] = [
  { name: 'Single State', series: singleState, unit: 1e-3, yLabels: singleStateTicks, box: [46, 11, 930, 362], x1954: 57.4, ppy: 19.73, yFont: 11, yGap: 3, legend: [456, 313, 66, 37] },
  { name: 'Model I', series: modelI, unit: 1e-4, yLabels: modelITicks, box: [1021, 24, 1853, 363], x1954: 1032.3, ppy: 18.45, yFont: 12, yGap: 2, legend: [1414, 317, 47, 35] },
  { name: 'Model II', series: modelII, unit: 1e-5, yLabels: modelIITicks, box: [42, 429, 939, 787], x1954: 53.3, ppy: 19.875, yFont: 11, yGap: 9, legend: [463, 738, 54, 36] },
  { name: 'Model III', series: modelIII, unit: 1e-5, yLabels: modelIIITicks, box: [1038, 430, 1853, 789], x1954: 1050, ppy: 18.05, yFont: 11.5, yGap: 9, legend: [1417, 739, 60, 38] },
  { name: 'Gaussian and t-mixture', series: mixture, unit: 1e-5, yLabels: mixtureTicks, box: [529, 836, 1446, 1199], x1954: 540, ppy: 20.33, yFont: 13, yGap: 3, legend: [926, 1147, 122, 39] },
];

const PAD_L = 70;
const PAD_T = 12;
const PAD_R = 4;
const PAD_B = 30;

const VolatilityPanel: React.FC<{ spec: PanelSpec }> = ({ spec }) => {
  const [left, top, right, bottom] = spec.box;
  const xDomain: [number, number] = [
    1954 + (left - spec.x1954) / spec.ppy,
    1954 + (right - spec.x1954) / spec.ppy,
  ];
  const majors = spec.yLabels.map(Number);
  const yMax = majors[majors.length - 1];
  const minors = majors.slice(1).map((v, i) => (v + majors[i]) / 2);
  const yTicks = [...majors, ...minors].sort((a, b) => a - b);
  const rows = spec.series.map(([t, v]) => ({ t, v: v * spec.unit }));

  const renderYTick = (props: any) => {
    const { x, y, payload } = props;
    const i = majors.findIndex((m) => Math.abs(m - payload.value) < yMax * 1e-6);
    return (
      <g>
        <line x1={x} x2={x + (i >= 0 ? 7 : 4)} y1={y} y2={y} stroke="#000" strokeWidth={1} />
        {i >= 0 && (
          <text x={x - spec.yGap} y={y} dy="0.35em" textAnchor="end" fontSize={spec.yFont} fontFamily={FONT} fill="#000">
            {spec.yLabels[i]}
          </text>
        )}
      </g>
    );
  };

  const [lx, ly, lw, lh] = spec.legend;

  return (
    <>
      <div style={{ position: 'absolute', left: left - PAD_L, top: top - PAD_T }}>
        <LineChart
          width={right - left + PAD_L + PAD_R}
          height={bottom - top + PAD_T + PAD_B}
          margin={{ top: PAD_T, right: PAD_R, bottom: 0, left: 0 }}
        >
          <XAxis
            type="number"
            dataKey="t"
            domain={xDomain}
            allowDataOverflow
            ticks={xTickYears}
            interval={0}
            tickFormatter={(v: number) => `${v}.01`}
            axisLine={false}
            tickLine={false}
            tickSize={0}
            tickMargin={7}
            height={PAD_B}
            tick={{ fontSize: 11, fontFamily: FONT, fill: '#000' }}
          />
          <YAxis
            type="number"
            domain={[0, yMax]}
            allowDataOverflow
            ticks={yTicks}
            interval={0}
            width={PAD_L}
            axisLine={false}
            tickLine={false}
            tickSize={0}
            tickMargin={0}
            tick={renderYTick}
          />
          {recessionMonths.map((t, i) => (
            <ReferenceLine key={i} x={t} stroke="#6e6e6e" strokeWidth={1} />
          ))}
          <Line
            data={rows}
            dataKey="v"
            type="linear"
            stroke="#000"
            strokeWidth={1}
            dot={false}
            activeDot={false}
            isAnimationActive={false}
          />
          <ReferenceArea x1={xDomain[0]} x2={xDomain[1]} y1={0} y2={yMax} fill="none" fillOpacity={0} stroke="#000" strokeWidth={2} />
        </LineChart>
      </div>
      <div
        style={{
          position: 'absolute',
          left: lx,
          top: ly,
          width: lw,
          height: lh,
          boxSizing: 'border-box',
          border: '2px solid #000',
          background: '#fff',
          fontFamily: FONT,
          fontSize: 11,
          lineHeight: '12px',
          textAlign: 'center',
          whiteSpace: 'nowrap',
          paddingTop: 6,
        }}
      >
        <div>{spec.name}</div>
        <div style={{ width: 22, height: 0, borderTop: '1px solid #000', margin: '5px auto 0' }} />
      </div>
    </>
  );
};

const App: React.FC = () => (
  <div style={{ position: 'absolute', left: 0, top: 0, width: 1852, height: 1218, overflow: 'hidden', background: '#fff' }}>
    {panels.map((p) => (
      <VolatilityPanel key={p.name} spec={p} />
    ))}
  </div>
);

export default App;
